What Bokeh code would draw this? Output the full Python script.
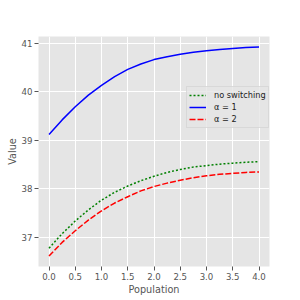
from bokeh.plotting import figure
from bokeh.models import Range1d, FixedTicker, Legend, LegendItem
from bokeh.embed import file_html
from bokeh.resources import INLINE

population = [0.0, 0.25, 0.5, 0.75, 1.0, 1.25, 1.5, 1.75, 2.0, 2.25, 2.5, 2.75, 3.0, 3.25, 3.5, 3.75, 4.0]
no_switching = [36.78, 37.08, 37.34, 37.57, 37.77, 37.93, 38.06, 38.17, 38.26, 38.34, 38.40, 38.45, 38.48, 38.51, 38.53, 38.55, 38.56]
alpha_1 = [39.12, 39.42, 39.69, 39.93, 40.13, 40.31, 40.46, 40.57, 40.66, 40.72, 40.77, 40.81, 40.84, 40.87, 40.89, 40.91, 40.92]
alpha_2 = [36.62, 36.90, 37.14, 37.36, 37.55, 37.71, 37.84, 37.96, 38.05, 38.12, 38.18, 38.23, 38.27, 38.30, 38.32, 38.34, 38.35]
x_ticks = [0.0, 0.5, 1.0, 1.5, 2.0, 2.5, 3.0, 3.5, 4.0]
y_ticks = [37, 38, 39, 40, 41]

p = figure(width=300, height=300, output_backend="svg", toolbar_location=None,
           x_range=Range1d(-0.2, 4.2), y_range=Range1d(36.405, 41.135),
           min_border_left=38, min_border_right=31, min_border_top=36, min_border_bottom=34)
p.background_fill_color = "#E5E5E5"
p.border_fill_color = "white"
p.outline_line_color = None

for ax in (p.xaxis[0], p.yaxis[0]):
    ax.axis_line_color = None
    ax.major_tick_line_color = "#555555"
    ax.major_tick_out = 4
    ax.major_tick_in = 0
    ax.minor_tick_line_color = None
    ax.major_label_text_color = "#555555"
    ax.major_label_text_font = "DejaVu Sans"
    ax.major_label_text_font_size = "8.6px"
    ax.axis_label_text_color = "#555555"
    ax.axis_label_text_font = "DejaVu Sans"
    ax.axis_label_text_font_size = "9.7px"
    ax.axis_label_text_font_style = "normal"
    ax.major_label_standoff = 2

p.xaxis.ticker = FixedTicker(ticks=x_ticks)
p.xaxis.major_label_overrides = {t: f"{t:.1f}" for t in x_ticks}
p.yaxis.ticker = FixedTicker(ticks=y_ticks)
p.xaxis.axis_label = "Population"
p.yaxis.axis_label = "Value"
p.xaxis.axis_label_standoff = 1
p.yaxis.axis_label_standoff = 1

p.grid.grid_line_color = "white"
p.grid.grid_line_width = 1
p.xgrid.ticker = FixedTicker(ticks=x_ticks)
p.ygrid.ticker = FixedTicker(ticks=y_ticks)

r1 = p.line(population, no_switching, line_color="green", line_width=1.5, line_dash="2 2")
r2 = p.line(population, alpha_1, line_color="blue", line_width=1.5)
r3 = p.line(population, alpha_2, line_color="red", line_width=1.5, line_dash="6 2")

legend = Legend(items=[LegendItem(label="no switching", renderers=[r1]),
                       LegendItem(label="α = 1", renderers=[r2]),
                       LegendItem(label="α = 2", renderers=[r3])],
                location=(148, 138))
legend.background_fill_color = "#E5E5E5"
legend.background_fill_alpha = 0.8
legend.border_line_color = "#CCCCCC"
legend.border_line_width = 1
legend.label_text_font = "DejaVu Sans"
legend.label_text_font_size = "8.2px"
legend.label_text_color = "#222222"
legend.glyph_width = 17
legend.glyph_height = 12
legend.label_height = 12
legend.spacing = 0
legend.padding = 2
legend.margin = 0
legend.label_standoff = 8
p.add_layout(legend, "center")

open("out.html", "w").write(file_html(p, INLINE))
